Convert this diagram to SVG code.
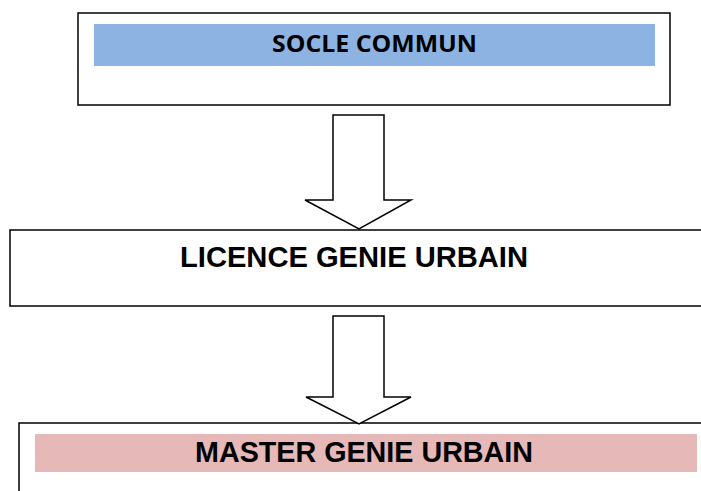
<svg xmlns="http://www.w3.org/2000/svg" width="701" height="491" viewBox="0 0 701 491">
<style>
.box{fill:#fff;stroke:#000;stroke-width:1.5}
.arrow{fill:#fff;stroke:#000;stroke-width:1.5;stroke-linejoin:miter}
.t{font-family:"Liberation Sans",Arial,sans-serif;font-weight:bold;font-size:29px;fill:#000}
.t2{font-family:"Open Sans","Liberation Sans",sans-serif;font-weight:bold;font-size:24px;fill:#000}
</style>
<rect width="701" height="491" fill="#fff"/>
<g id="socle">
<rect class="box" x="78" y="13" width="592" height="92"/>
<rect x="94" y="24" width="561" height="42" fill="#8db3e2"/>
<text class="t2" x="272" y="52" textLength="205" lengthAdjust="spacingAndGlyphs">SOCLE COMMUN</text>
</g>
<g id="licence">
<rect class="box" x="10" y="230" width="700" height="76"/>
<text class="t" x="180" y="267" textLength="348" lengthAdjust="spacingAndGlyphs">LICENCE GENIE URBAIN</text>
</g>
<g id="master">
<rect class="box" x="19" y="423" width="700" height="80"/>
<rect x="35" y="434" width="662" height="38" fill="#e6b8b7"/>
<text class="t" x="195" y="462" textLength="338" lengthAdjust="spacingAndGlyphs">MASTER GENIE URBAIN</text>
</g>
<g id="connectors">
<path class="arrow" d="M333,115 H384 V200 H411 L359,229 L305,200 H333 Z"/>
<path class="arrow" d="M333,316 H384 V397 H411 L359,424 L306,397 H333 Z"/>
</g>
</svg>
